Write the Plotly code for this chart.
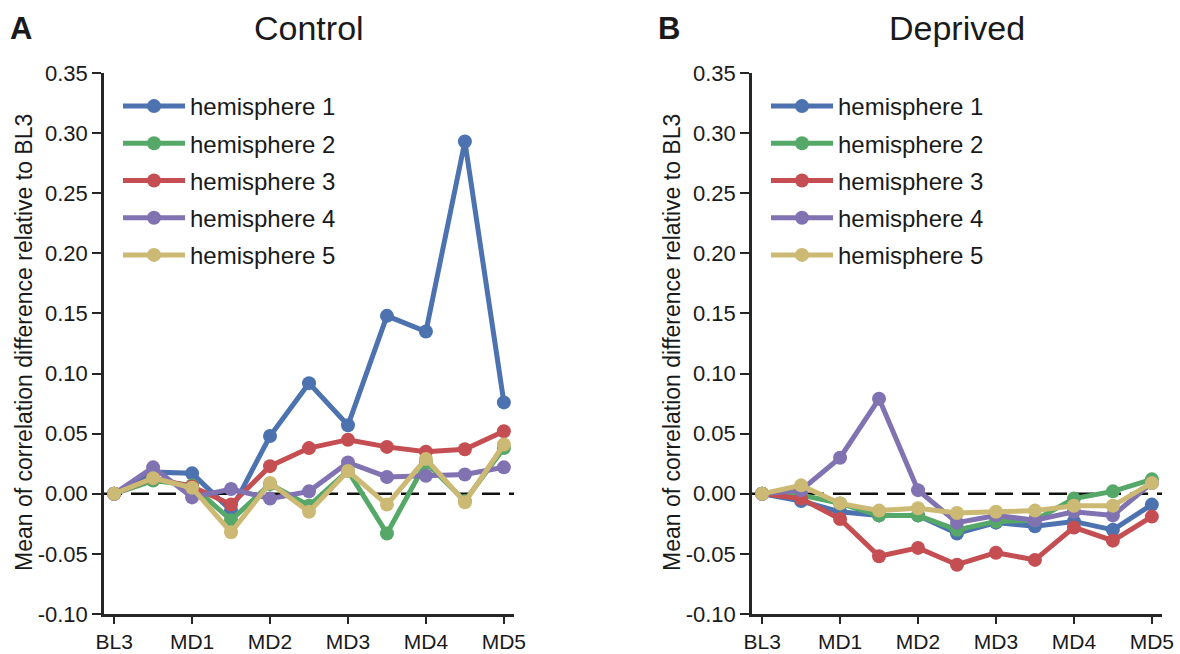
import plotly.graph_objects as go

x_labels = ["BL3", "", "MD1", "", "MD2", "", "MD3", "", "MD4", "", "MD5"]
x_pos = list(range(len(x_labels)))
tick_vals = [0, 2, 4, 6, 8, 10]
tick_text = ["BL3", "MD1", "MD2", "MD3", "MD4", "MD5"]
y_tick_vals = [-0.10, -0.05, 0.0, 0.05, 0.10, 0.15, 0.20, 0.25, 0.30, 0.35]
y_tick_text = ["-0.10", "-0.05", "0.00", "0.05", "0.10", "0.15", "0.20", "0.25", "0.30", "0.35"]

names = ["hemisphere 1", "hemisphere 2", "hemisphere 3", "hemisphere 4", "hemisphere 5"]
colors = ["#4C72B0", "#55A868", "#C44E52", "#8172B2", "#CCB974"]

control_h1 = [0.0, 0.018, 0.017, -0.014, 0.048, 0.092, 0.057, 0.148, 0.135, 0.293, 0.076]
control_h2 = [0.0, 0.011, 0.007, -0.022, 0.008, -0.010, 0.019, -0.033, 0.026, -0.006, 0.038]
control_h3 = [0.0, 0.013, 0.006, -0.009, 0.023, 0.038, 0.045, 0.039, 0.035, 0.037, 0.052]
control_h4 = [0.0, 0.022, -0.003, 0.004, -0.004, 0.002, 0.026, 0.014, 0.015, 0.016, 0.022]
control_h5 = [0.0, 0.013, 0.005, -0.032, 0.009, -0.015, 0.019, -0.009, 0.029, -0.007, 0.041]

deprived_h1 = [0.0, -0.006, -0.015, -0.018, -0.018, -0.033, -0.024, -0.027, -0.023, -0.030, -0.009]
deprived_h2 = [0.0, -0.001, -0.008, -0.018, -0.018, -0.030, -0.023, -0.022, -0.004, 0.002, 0.012]
deprived_h3 = [0.0, -0.004, -0.021, -0.052, -0.045, -0.059, -0.049, -0.055, -0.028, -0.039, -0.019]
deprived_h4 = [0.0, 0.003, 0.030, 0.079, 0.003, -0.024, -0.018, -0.022, -0.015, -0.018, 0.009]
deprived_h5 = [0.0, 0.007, -0.008, -0.014, -0.012, -0.016, -0.015, -0.014, -0.010, -0.010, 0.009]

control = [control_h1, control_h2, control_h3, control_h4, control_h5]
deprived = [deprived_h1, deprived_h2, deprived_h3, deprived_h4, deprived_h5]

y_title = "Mean of correlation difference relative to BL3"

FONT = "Liberation Sans, Arial, Helvetica, sans-serif"
AX = "#262626"
TXT = "#1a1a1a"

fig = go.Figure()

for i, (nm, c) in enumerate(zip(names, colors)):
    fig.add_trace(go.Scatter(
        x=x_pos, y=control[i], name=nm, mode="lines+markers",
        line=dict(color=c, width=5), marker=dict(color=c, size=14),
        xaxis="x", yaxis="y", legend="legend", legendgroup="a%d" % i))
for i, (nm, c) in enumerate(zip(names, colors)):
    fig.add_trace(go.Scatter(
        x=x_pos, y=deprived[i], name=nm, mode="lines+markers",
        line=dict(color=c, width=5), marker=dict(color=c, size=14),
        xaxis="x2", yaxis="y2", legend="legend2", legendgroup="b%d" % i))

xaxis_common = dict(
    range=[-0.26, 10.26], tickmode="array", tickvals=tick_vals, ticktext=tick_text,
    showgrid=False, zeroline=False, showline=True, linecolor=AX, linewidth=2.5,
    ticks="outside", ticklen=7, tickwidth=2, tickcolor=AX, automargin=False,
    tickfont=dict(family=FONT, size=21, color=TXT),
)
yaxis_common = dict(
    range=[-0.10, 0.35], tickmode="array",
    tickvals=y_tick_vals, ticktext=y_tick_text,
    showgrid=False, zeroline=False, showline=True, linecolor=AX, linewidth=2.5,
    ticks="outside", ticklen=9, tickwidth=2, tickcolor=AX, automargin=False,
    tickfont=dict(family=FONT, size=22, color=TXT),
)

ydom = [1 - 614 / 654, 1 - 73 / 654]
leg_common = dict(xanchor="left", yanchor="top",
                  font=dict(family=FONT, size=24, color=TXT),
                  bgcolor="rgba(0,0,0,0)", tracegroupgap=3, itemwidth=62)


def ann(text, xpx, ypx, size, anchor="center", angle=0):
    return dict(text=text, x=xpx / 1180, y=1 - ypx / 654, xref="paper", yref="paper",
                xanchor=anchor, yanchor="middle", showarrow=False, textangle=angle,
                font=dict(family=FONT, size=size, color=TXT))


fig.update_layout(
    width=1180, height=654,
    margin=dict(l=0, r=0, t=0, b=0, autoexpand=False),
    paper_bgcolor="white", plot_bgcolor="white",
    xaxis=dict(domain=[104 / 1180, 514 / 1180], anchor="y", **xaxis_common),
    yaxis=dict(domain=ydom, anchor="x", **yaxis_common),
    xaxis2=dict(domain=[752 / 1180, 1162 / 1180], anchor="y2", **xaxis_common),
    yaxis2=dict(domain=ydom, anchor="x2", **yaxis_common),
    legend=dict(x=118 / 1180, y=1 - 84 / 654, **leg_common),
    legend2=dict(x=766 / 1180, y=1 - 84 / 654, **leg_common),
    showlegend=True,
    shapes=[
        dict(type="line", xref="x domain", yref="y", x0=0, x1=1, y0=0, y1=0,
             line=dict(color="#111111", width=2.5, dash="18px,9px"), layer="below"),
        dict(type="line", xref="x2 domain", yref="y2", x0=0, x1=1, y0=0, y1=0,
             line=dict(color="#111111", width=2.5, dash="18px,9px"), layer="below"),
    ],
    annotations=[
        ann("Control", 309, 28, 34),
        ann("Deprived", 957, 28, 34),
        ann("<b>A</b>", 8, 28, 31, anchor="left"),
        ann("<b>B</b>", 656, 28, 31, anchor="left"),
        ann(y_title, 24, 343, 23, angle=-90),
        ann(y_title, 672, 343, 23, angle=-90),
    ],
)

fig.write_html("out.html")
